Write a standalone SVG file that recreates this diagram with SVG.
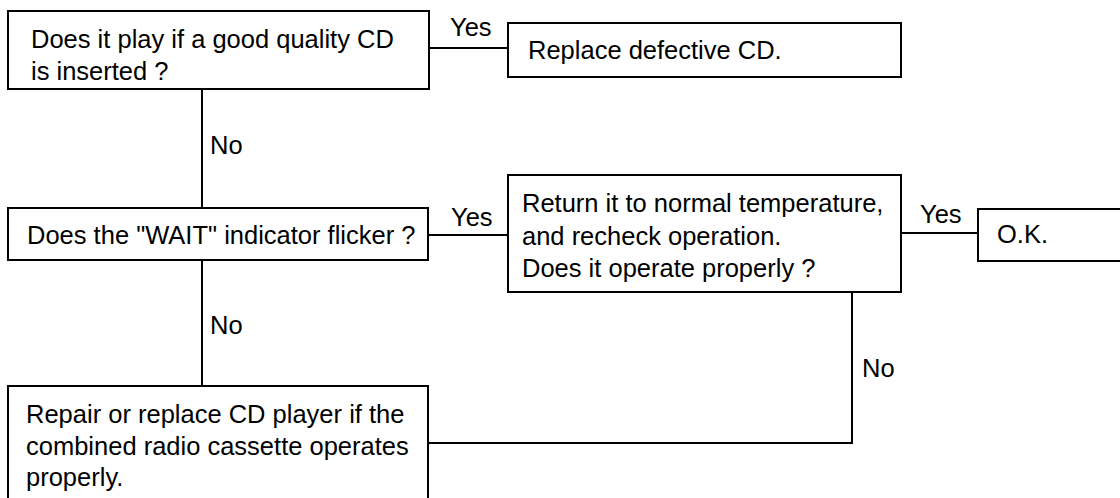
<svg xmlns="http://www.w3.org/2000/svg" width="1120" height="498" viewBox="0 0 1120 498">
  <style>
    .box { fill: #ffffff; stroke: #000000; stroke-width: 2; }
    .line { fill: none; stroke: #000000; stroke-width: 2; }
    text { font-family: "Liberation Sans", Arial, sans-serif; font-size: 25.5px; fill: #000000; }
  </style>
  <rect width="1120" height="498" fill="#ffffff"/>
  <g id="connectors">
    <line class="line" x1="429" y1="48" x2="508" y2="48"/>
    <line class="line" x1="202" y1="89" x2="202" y2="208"/>
    <line class="line" x1="428" y1="235" x2="508" y2="235"/>
    <line class="line" x1="901" y1="233" x2="978" y2="233"/>
    <line class="line" x1="202" y1="260" x2="202" y2="386"/>
    <polyline class="line" points="852,292 852,443 428,443"/>
    <text x="450" y="36">Yes</text>
    <text x="210" y="154">No</text>
    <text x="451" y="226">Yes</text>
    <text x="920" y="223">Yes</text>
    <text x="210" y="334">No</text>
    <text x="862" y="377">No</text>
  </g>
  <g id="q1">
    <rect class="box" x="8" y="11" width="421" height="78"/>
    <text x="31" y="48">Does it play if a good quality CD</text>
    <text x="31" y="80">is inserted ?</text>
  </g>
  <g id="replace-cd">
    <rect class="box" x="508" y="23" width="393" height="54"/>
    <text x="528" y="59">Replace defective CD.</text>
  </g>
  <g id="q2">
    <rect class="box" x="8" y="208" width="420" height="52"/>
    <text x="27" y="244">Does the "WAIT" indicator flicker ?</text>
  </g>
  <g id="q3">
    <rect class="box" x="508" y="175" width="393" height="117"/>
    <text x="522" y="212">Return it to normal temperature,</text>
    <text x="522" y="245">and recheck operation.</text>
    <text x="522" y="277">Does it operate properly ?</text>
  </g>
  <g id="ok">
    <rect class="box" x="978" y="209" width="160" height="52"/>
    <text x="997" y="243">O.K.</text>
  </g>
  <g id="repair">
    <rect class="box" x="8" y="386" width="420" height="130"/>
    <text x="26" y="423">Repair or replace CD player if the</text>
    <text x="26" y="455">combined radio cassette operates</text>
    <text x="26" y="486">properly.</text>
  </g>
</svg>
